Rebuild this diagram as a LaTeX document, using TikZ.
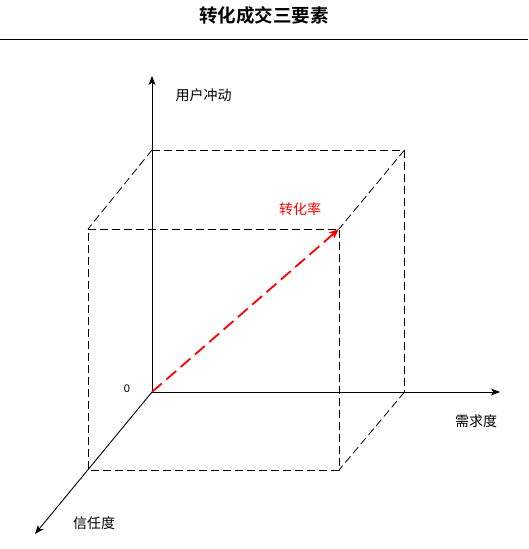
\documentclass[tikz,border=0pt]{standalone}
\usepackage{fontspec}
\newfontfamily\cjk{Noto Sans CJK SC}
\newfontfamily\cjkb{Noto Sans CJK SC Bold}
\newfontfamily\lsans{Liberation Sans}
\usetikzlibrary{arrows.meta}
\begin{document}
\begin{tikzpicture}[x=1pt,y=-1pt,
  axis/.style={line width=0.9pt,-{Stealth[length=9pt,width=7pt,inset=2.5pt]}},
  edge/.style={line width=0.8pt,dash pattern=on 8pt off 4pt},
  lbl/.style={font=\cjk\fontsize{14}{14}\selectfont,inner sep=0pt},
  rate/.style={red,line width=1.8pt,dash pattern=on 13pt off 6pt,-{Stealth[length=10pt,width=8pt,inset=2.5pt]}}]
\useasboundingbox (0,0) rectangle (528,549);
\node[inner sep=0pt,font=\cjkb\fontsize{18.5}{18.5}\selectfont] (title) at (264,15) {转化成交三要素};
\coordinate (hl) at (0,39.5);
\coordinate (hr) at (528,39.5);
\draw[line width=1pt] (hl) -- (hr);
% axes points
\coordinate (O) at (152,392);
\coordinate (Y) at (152,76);
\coordinate (X) at (500,392);
\coordinate (Z) at (35,534);
% cube corners
\coordinate (BTL) at (152,150);
\coordinate (BTR) at (404.5,150);
\coordinate (BBR) at (404.5,392);
\coordinate (FTL) at (88,229);
\coordinate (FTR) at (339,229);
\coordinate (FBR) at (339,470);
\coordinate (FBL) at (88,470);
% cube dashed edges
\draw[edge] (BTL) -- (BTR) -- (BBR);
\draw[edge] (FTL) -- (FTR) -- (FBR) -- (FBL) -- (FTL);
\draw[edge] (BTL) -- (FTL);
\draw[edge] (BTR) -- (FTR);
\draw[edge] (BBR) -- (FBR);
% axes
\draw[axis] (O) -- (Y);
\draw[axis] (O) -- (X);
\draw[axis] (O) -- (Z);
% red arrow
\draw[rate] (O) -- (FTR);
% labels
\node[lbl] (ly) at (203.5,95) {用户冲动};
\node[lbl] (lx) at (476,421) {需求度};
\node[lbl] (lz) at (94,523) {信任度};
\node[lbl,text=red] (lr) at (300,209) {转化率};
\node[inner sep=0pt,font=\lsans\fontsize{11}{11}\selectfont] (zero) at (127,389) {0};
\end{tikzpicture}
\end{document}
